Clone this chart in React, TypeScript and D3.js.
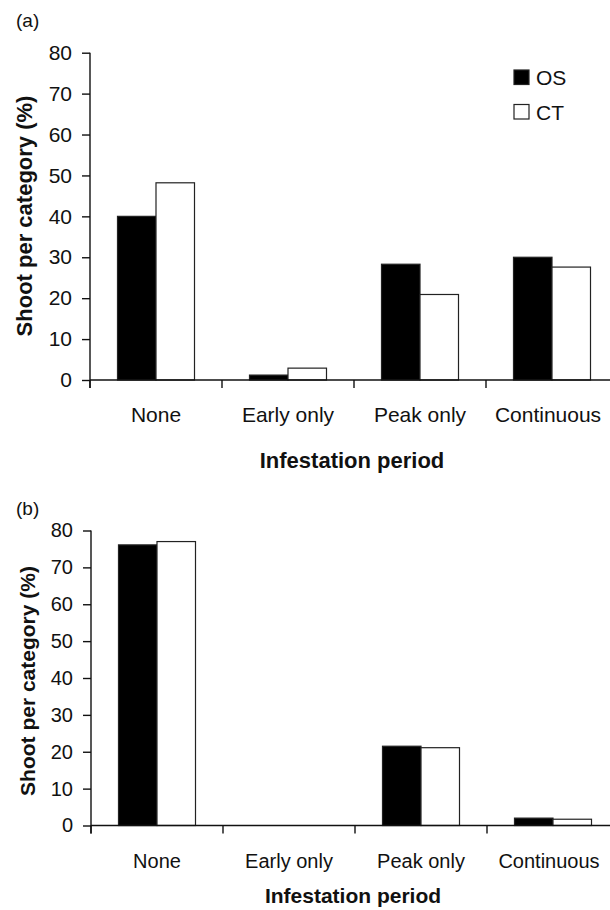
import React, { useEffect, useRef } from 'react';
import * as d3 from 'd3';

// infestation categories and the two shoot types
const categories = ['None', 'Early only', 'Peak only', 'Continuous'];
const seriesNames = ['OS', 'CT'];

// panel (a)
const osA = [40.0, 1.2, 28.3, 30.0];
const ctA = [48.2, 2.9, 20.9, 27.6];
// panel (b)
const osB = [76.1, 0, 21.5, 2.0];
const ctB = [77.0, 0, 21.1, 1.7];

const yTicks = [0, 10, 20, 30, 40, 50, 60, 70, 80];
const yLabel = 'Shoot per category (%)';
const xLabel = 'Infestation period';

const FONT = "Arial, 'Liberation Sans', sans-serif";
const INK = '#111';

const App = () => {
  const svgRef = useRef(null);

  useEffect(() => {
    const svg = d3.select(svgRef.current);
    svg.selectAll('*').remove();

    const panels = [
      {
        tag: '(a)', os: osA, ct: ctA,
        left: 90, right: 618, top: 52.7, bottom: 380,
        tagY: 27, fs: 21, titleFs: 22,
        catY: 422, titleY: 468, yLabX: 32, yLabY: 216,
        legend: true,
      },
      {
        tag: '(b)', os: osB, ct: ctB,
        left: 91, right: 619, top: 530.5, bottom: 825.5,
        tagY: 515, fs: 20, titleFs: 21,
        catY: 868, titleY: 902.5, yLabX: 35, yLabY: 681,
        legend: false,
      },
    ];

    panels.forEach(p => {
      const g = svg.append('g');

      const x = d3.scaleBand().domain(categories).range([p.left, p.right]).padding(0);
      const xs = d3.scaleBand().domain(seriesNames).range([27.5, 104.5]).padding(0);
      const y = d3.scaleLinear().domain([0, 80]).range([p.bottom, p.top]);

      // bars
      const rows = categories.flatMap((c, i) => [
        { c, s: 'OS', v: p.os[i] },
        { c, s: 'CT', v: p.ct[i] },
      ]).filter(d => d.v > 0);

      g.append('g')
        .selectAll('rect')
        .data(rows)
        .enter()
        .append('rect')
        .attr('x', d => x(d.c) + xs(d.s))
        .attr('y', d => y(d.v))
        .attr('width', xs.bandwidth())
        .attr('height', d => y(0) - y(d.v))
        .attr('fill', d => (d.s === 'OS' ? '#000' : '#fff'))
        .attr('stroke', '#222')
        .attr('stroke-width', 1.2);

      // y axis
      const ya = g.append('g')
        .attr('transform', `translate(${p.left},0)`)
        .call(d3.axisLeft(y).tickValues(yTicks).tickSize(8).tickSizeOuter(0).tickPadding(10));
      ya.select('.domain').remove();
      ya.selectAll('line').attr('stroke', INK).attr('stroke-width', 1.4);
      ya.selectAll('text').attr('font-family', FONT).attr('font-size', p.fs).attr('fill', INK);
      g.append('line')
        .attr('x1', p.left).attr('x2', p.left)
        .attr('y1', y(80)).attr('y2', y(0) + 8)
        .attr('stroke', INK).attr('stroke-width', 1.4);

      // x axis line and category boundary ticks
      g.append('line')
        .attr('x1', p.left).attr('x2', p.right)
        .attr('y1', y(0)).attr('y2', y(0))
        .attr('stroke', INK).attr('stroke-width', 1.4);
      g.append('g')
        .selectAll('line')
        .data(categories)
        .enter()
        .append('line')
        .attr('x1', d => x(d)).attr('x2', d => x(d))
        .attr('y1', y(0)).attr('y2', y(0) + 8)
        .attr('stroke', INK).attr('stroke-width', 1.4);

      g.append('g')
        .selectAll('text')
        .data(categories)
        .enter()
        .append('text')
        .attr('x', (d, i) => x(d) + x.bandwidth() / 2 - (i === 3 ? 4 : 0))
        .attr('y', p.catY)
        .attr('text-anchor', 'middle')
        .attr('font-family', FONT)
        .attr('font-size', p.fs)
        .attr('fill', INK)
        .text(d => d);

      // axis titles
      g.append('text')
        .attr('x', (p.left + p.right) / 2 - 2)
        .attr('y', p.titleY)
        .attr('text-anchor', 'middle')
        .attr('font-family', FONT)
        .attr('font-weight', 'bold')
        .attr('font-size', p.titleFs)
        .attr('fill', INK)
        .text(xLabel);

      g.append('text')
        .attr('transform', `translate(${p.yLabX},${p.yLabY}) rotate(-90)`)
        .attr('text-anchor', 'middle')
        .attr('font-family', FONT)
        .attr('font-weight', 'bold')
        .attr('font-size', p.titleFs)
        .attr('fill', INK)
        .text(yLabel);

      g.append('text')
        .attr('x', 16)
        .attr('y', p.tagY)
        .attr('font-family', FONT)
        .attr('font-size', 19)
        .attr('fill', INK)
        .text(p.tag);

      if (p.legend) {
        const lg = g.append('g')
          .selectAll('g')
          .data(seriesNames)
          .enter()
          .append('g')
          .attr('transform', (d, i) => `translate(514,${70 + i * 34.5})`);
        lg.append('rect')
          .attr('width', 15).attr('height', 14.5)
          .attr('fill', d => (d === 'OS' ? '#000' : '#fff'))
          .attr('stroke', '#222').attr('stroke-width', 1.2);
        lg.append('text')
          .attr('x', 22)
          .attr('y', 15)
          .attr('font-family', FONT)
          .attr('font-size', 21)
          .attr('fill', INK)
          .text(d => d);
      }
    });
  }, []);

  return (
    <svg
      ref={svgRef}
      width={610}
      height={910}
      viewBox="0 0 610 910"
      style={{ position: 'absolute', left: 0, top: 0, background: '#fff' }}
    />
  );
};

export default App;
